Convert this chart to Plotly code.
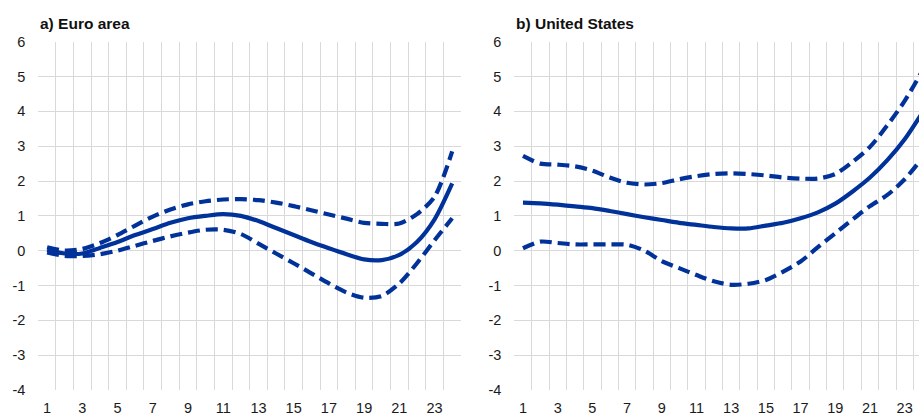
import plotly.graph_objects as go

horizons = list(range(1, 25))
x_tick_labels = [str(i) for i in range(1, 24, 2)]
y_ticks = list(range(-4, 7))
y_tick_labels = [str(v) for v in y_ticks]

ea_central = [0.02, -0.08, -0.08, 0.08, 0.25, 0.45, 0.62, 0.8, 0.93, 1.0, 1.05, 1.0, 0.85, 0.65, 0.45, 0.25, 0.07, -0.1, -0.25, -0.27, -0.12, 0.25, 0.9, 1.93]
ea_upper = [0.1, 0.0, 0.05, 0.22, 0.45, 0.72, 0.98, 1.18, 1.33, 1.42, 1.47, 1.48, 1.45, 1.38, 1.28, 1.16, 1.04, 0.92, 0.8, 0.77, 0.78, 1.05, 1.55, 2.85]
ea_lower = [-0.05, -0.15, -0.15, -0.1, 0.0, 0.14, 0.28, 0.41, 0.52, 0.6, 0.6, 0.48, 0.2, -0.08, -0.36, -0.65, -0.94, -1.2, -1.35, -1.3, -0.94, -0.36, 0.3, 0.93]

us_central = [1.38, 1.36, 1.32, 1.27, 1.22, 1.14, 1.05, 0.96, 0.88, 0.8, 0.74, 0.68, 0.64, 0.64, 0.72, 0.8, 0.93, 1.1, 1.35, 1.7, 2.1, 2.6, 3.2, 3.95]
us_upper = [2.72, 2.5, 2.47, 2.42, 2.3, 2.1, 1.95, 1.9, 1.94, 2.05, 2.14, 2.2, 2.22, 2.2, 2.16, 2.1, 2.07, 2.07, 2.2, 2.55, 2.98, 3.6, 4.3, 5.15]
us_lower = [0.07, 0.26, 0.22, 0.18, 0.18, 0.18, 0.17, 0.0, -0.3, -0.5, -0.7, -0.88, -0.98, -0.95, -0.84, -0.6, -0.31, 0.1, 0.5, 0.9, 1.28, 1.6, 2.05, 2.65]

BLUE = "#003299"
GRID = "#d9d9d9"
FONT = "Liberation Sans, Arial, sans-serif"
W, H = 919, 416

fig = go.Figure()

def add_panel(xa, ya, central, upper, lower):
    for vals, dash in ((upper, "12px,6px"), (lower, "12px,6px"), (central, "solid")):
        fig.add_trace(go.Scatter(
            x=horizons, y=vals, mode="lines", xaxis=xa, yaxis=ya,
            line=dict(color=BLUE, width=4.2, dash=dash, shape="spline", smoothing=0.8),
            showlegend=False, hoverinfo="skip", cliponaxis=True,
        ))

add_panel("x", "y", ea_central, ea_upper, ea_lower)
add_panel("x2", "y2", us_central, us_upper, us_lower)

y_dom = [(H - 390) / H, (H - 41.7) / H]
boundaries = [i + 0.5 for i in range(0, 25)]

def xaxis(domain, rng):
    return dict(
        domain=domain, range=rng, tickmode="array",
        tickvals=list(range(1, 24, 2)), ticktext=x_tick_labels,
        showgrid=False, zeroline=False, showline=False,
        ticks="outside", ticklen=0, ticklabelstandoff=5,
        tickfont=dict(family=FONT, size=14.5, color="#1a1a1a"),
        minor=dict(tickmode="array", tickvals=boundaries, showgrid=True,
                   gridcolor=GRID, gridwidth=1, ticks=""),
        fixedrange=True,
    )

def yaxis(anchor):
    return dict(
        domain=y_dom, range=[-4, 6], tickmode="array", tickvals=y_ticks,
        ticktext=y_tick_labels,
        showgrid=True, gridcolor=GRID, gridwidth=1, zeroline=False,
        showline=False, ticks="outside", ticklen=0, ticklabelstandoff=9,
        tickfont=dict(family=FONT, size=14.5, color="#1a1a1a"),
        anchor=anchor, fixedrange=True,
    )

fig.update_layout(
    width=W, height=H, margin=dict(l=0, r=0, t=0, b=0),
    paper_bgcolor="white", plot_bgcolor="white",
    xaxis=xaxis([38.3 / W, 461 / W], [0.5, 24.5]),
    xaxis2=xaxis([514.3 / W, 1.0], [0.5, 0.5 + (919 - 514.3) / 17.35]),
    yaxis=yaxis("x"),
    yaxis2=yaxis("x2"),
    annotations=[
        dict(text="<b>a) Euro area</b>", x=37.5 / W, y=1 - 23.7 / H, xref="paper", yref="paper",
             xanchor="left", yanchor="middle", showarrow=False,
             font=dict(family=FONT, size=15.5, color="#111111")),
        dict(text="<b>b) United States</b>", x=513.5 / W, y=1 - 23.7 / H, xref="paper", yref="paper",
             xanchor="left", yanchor="middle", showarrow=False,
             font=dict(family=FONT, size=15.5, color="#111111")),
    ],
)
fig.update_xaxes(automargin=False)
fig.update_yaxes(automargin=False)

fig.write_html("out.html", config={"displayModeBar": False, "staticPlot": True},
               post_script="document.body.style.margin='0';document.body.style.overflow='hidden';")
